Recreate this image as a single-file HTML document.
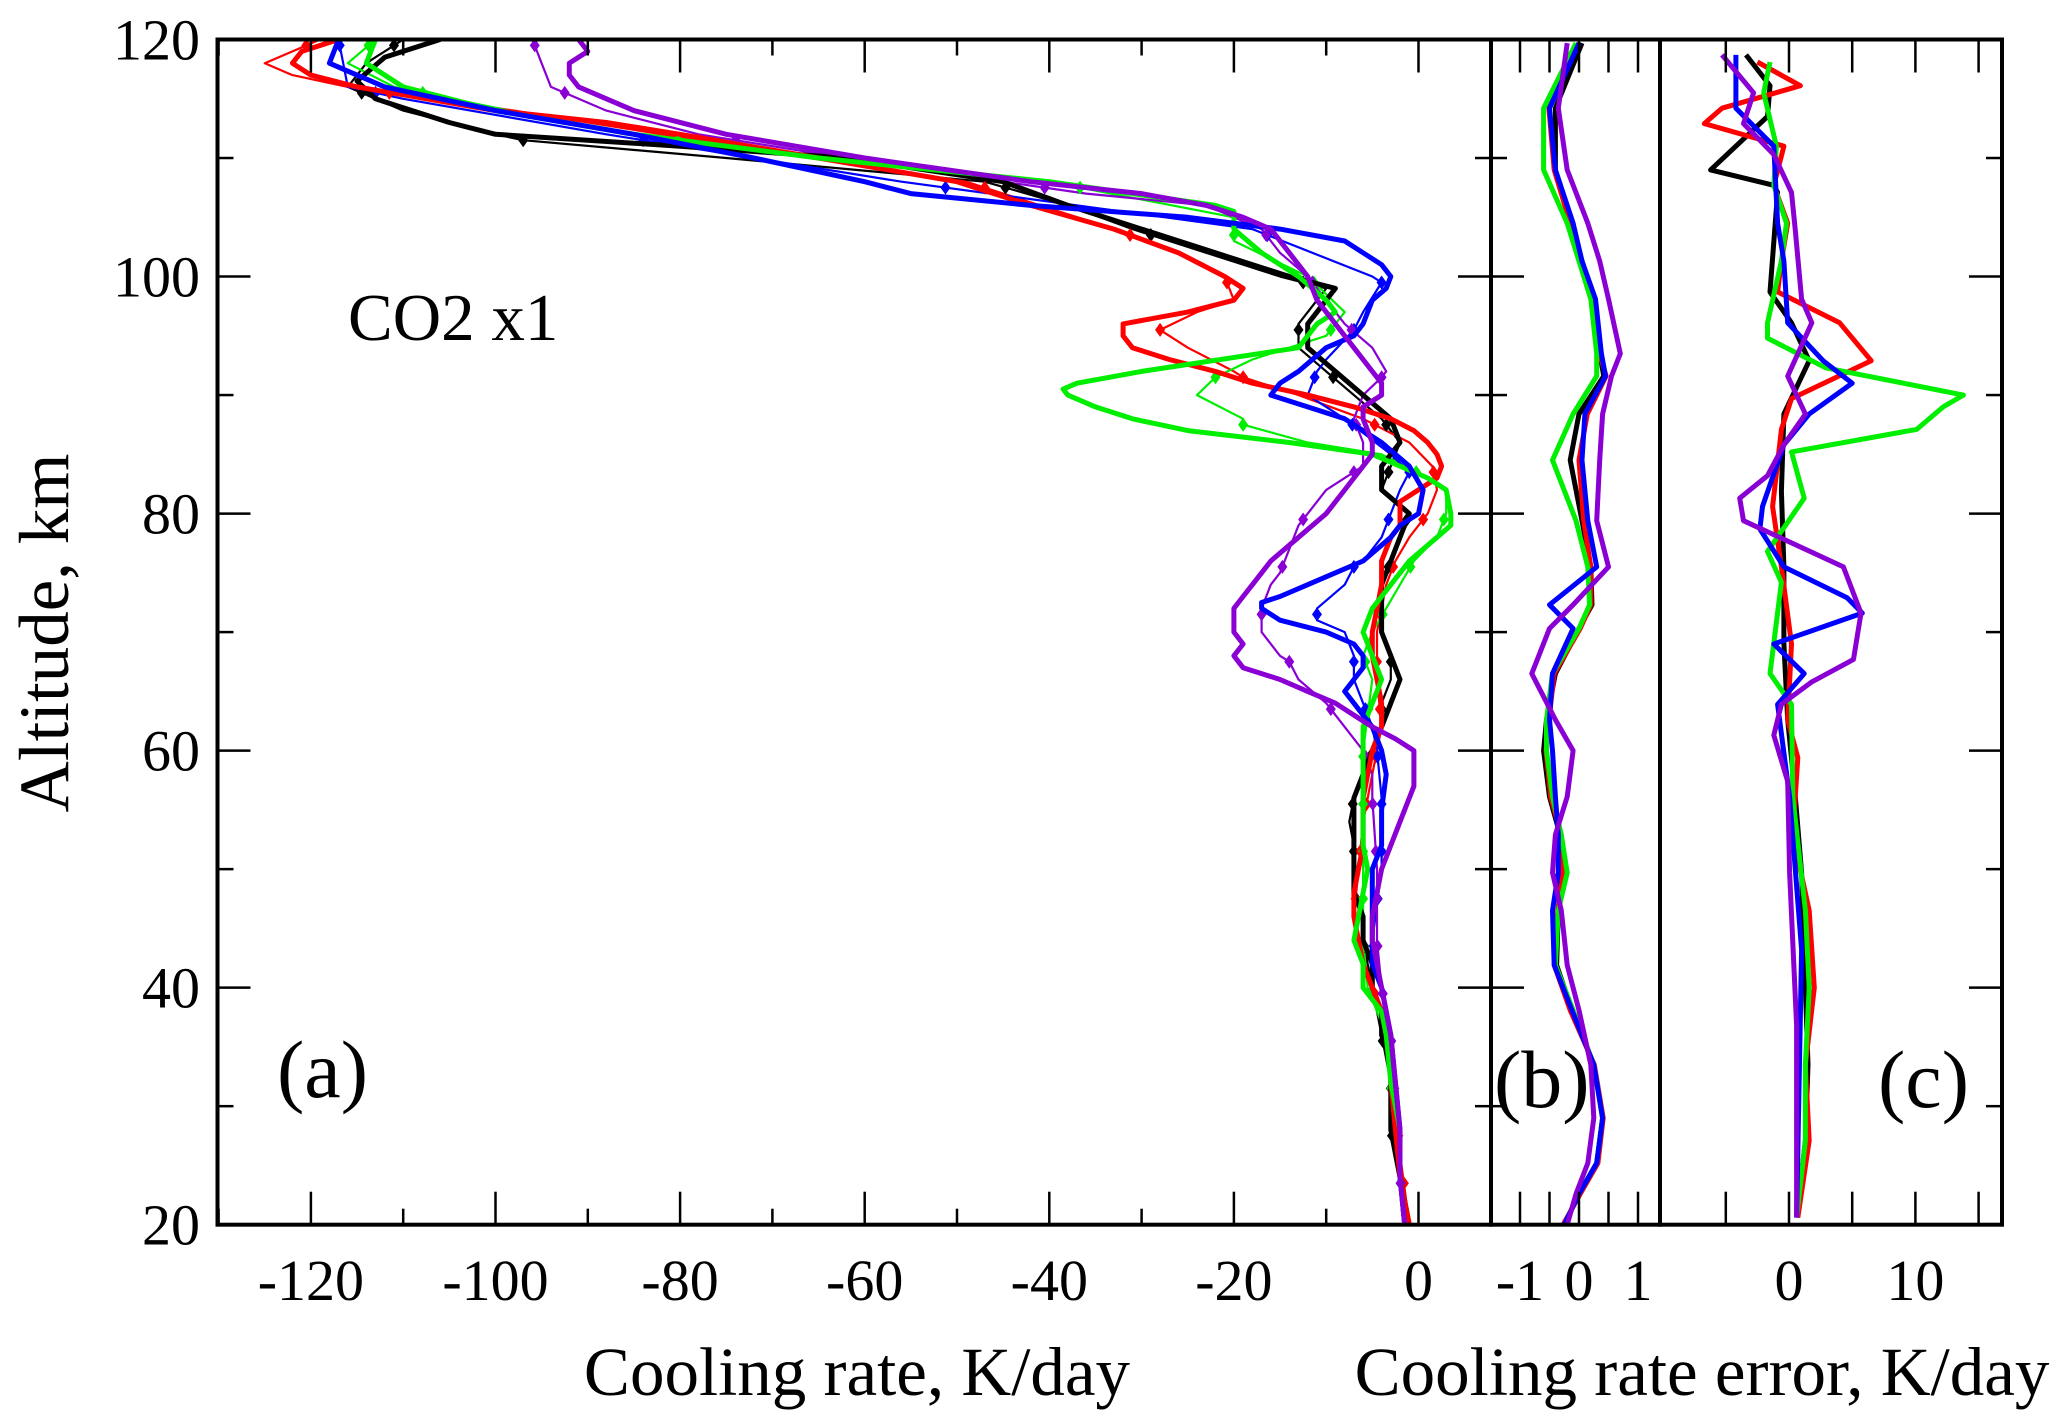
<!DOCTYPE html>
<html><head><meta charset="utf-8"><style>
html,body{margin:0;padding:0;background:#fff;}
svg{display:block;font-family:"Liberation Serif",serif;}
</style></head><body>
<svg id="chart" width="2067" height="1428" viewBox="0 0 2067 1428" xmlns="http://www.w3.org/2000/svg">
<g id="series"></g>
<g id="axes"></g>
<text x="0" y="0" font-size="71" text-anchor="middle" transform="translate(68,633) rotate(-90)">Altitude, km</text>
<text x="857" y="1395" font-size="69" text-anchor="middle">Cooling rate, K/day</text>
<text x="1702" y="1395" font-size="69" text-anchor="middle">Cooling rate error, K/day</text>
<text x="348" y="340" font-size="67">CO2 x1</text>
<text x="277" y="1097" font-size="82">(a)</text>
<text x="1494" y="1107" font-size="82">(b)</text>
<text x="1878" y="1107" font-size="82">(c)</text>
</svg>
<script>
// ---- panel (a) data: altitude arrays and cooling-rate arrays ----
const altBlackThick=[120,118.5,116.5,115,113,112,111,110,108,106,104,102,100,99,98,96,94,92,90,88,86,84,82,80,78,76,74,72,70,68,66,64,62,60,58,56,54,52,50,48,46,44,42,40,38,36,34,32,30,28,26,24,22,20];
const valBlackThick=[-106,-112,-115,-113,-105,-100,-80,-62,-45,-38,-30,-22,-14,-9,-10,-12,-12,-9,-6,-3,-2,-4,-4,-1,-2,-3,-4,-4,-4,-3,-2,-3,-4,-5,-6,-7,-7,-7,-7,-7,-6,-6,-5,-5,-4,-4,-3,-3,-3,-3,-2.5,-2,-1.5,-1];
const altBlackThin=[120,118,116,114,112,111.5,110,108,106,104,102,100,99,98,96,94,92,90,88,86,84,82,80,78,76,74,72,70,68,66,64,62,60,58,56,54,52,50,48,46,44,40,36,32,28,24,20];
const valBlackThin=[-110,-114,-116,-110,-100,-97,-75,-47,-38,-31,-23,-15,-10,-11,-13,-13,-10,-7,-4,-2,-3,-4,-1,-2,-3,-4,-4,-4,-3,-3,-4,-4,-5,-6,-7,-7.5,-7,-7,-7,-6,-6,-5,-4,-3,-3,-2,-1];
const altRedThick=[120,119,118,117,116,114,113,112,110,108,106,104,102,100,99,98,97,96,95,94,93,92,91,90,89,88,87,86,85,84,83,82,81,80,79,78,76,74,72,70,68,66,64,62,60,58,56,52,50,48,46,44,42,40,38,36,34,32,28,24,20];
const valRedThick=[-117,-121,-122,-120,-115,-100,-88,-80,-65,-50,-42,-33,-26,-21,-19,-20,-25,-32,-32,-31,-27,-22,-18,-12,-7,-3,-0.5,1,2,2.5,2,0,-2,-2,-2,-3,-4,-4,-4.5,-5,-5,-4.5,-4,-4,-5,-5.5,-6,-6,-6.5,-7,-7,-6.5,-6,-5,-4,-3.5,-3,-3,-2.5,-2,-1];
const altRedThin=[120,118,117,116,114,112,110,108,106,104,102,100,98,97,95.5,94,92,91.5,90,88,86,84,82,80,78,76,74,72,70,66,62,58,54,50,46,42,38,34,30,26,20];
const valRedThin=[-119,-125,-122,-116,-98,-82,-66,-49,-41,-33,-26,-21,-20,-24,-28,-25,-20,-19,-13,-6,-1,1.5,2,1,-1,-2.5,-3.5,-4,-4.5,-4.5,-4,-5,-6,-6.5,-7,-6,-4,-3,-2.5,-2,-1];
const altGreenThick=[120,118,117,116,114,112,110,108,106,105.5,104,102,100,98,97,96,95,94,92,91,90.5,90,89,88,87,86,85,84,83,82,80,79,78,76,74,72,70,68,66,64,62,60,56,52,50,48,44,42,40,38,36,32,28,24,20];
const valGreenThick=[-113,-114,-112,-110,-100,-85,-65,-40,-22,-20,-20,-17,-13,-10,-9,-11,-12,-13,-30,-37,-38.5,-38,-35,-31,-25,-14,-5,-2,1,3,3.5,3.5,2,-1,-3,-5,-6,-5,-4,-5,-6,-6,-6,-6,-5.5,-6,-7,-6,-6,-4,-3.5,-3,-2,-2,-1.5];
const altGreenThin=[120,118,116,112,108,105,103,100,97,95,93,91.5,90,88,87.5,86,85,83,82,80,78,76,74,70,68,66,60,56,50,44,40,36,28,20];
const valGreenThin=[-113,-116,-111,-86,-40,-20,-20,-12,-8,-10,-18,-22,-24,-19,-19,-12,-4,1,3,3,2,-0.5,-2,-5,-6,-5,-6,-6,-6,-6,-5.5,-3.5,-2.5,-1.5];
const altBlueThick=[120,118,117,116,114,112,110,108,107,106,105,104,103,102,101,100,99,98,96,95,94,92,91,90,89,88,87,86,85,84,82,80,79,78,76,75,74,73,72.5,72,71,70,69,68,67,66,65,64,63,62,60,58,55,52,50,46,42,40,36,32,28,24,20];
const valBlueThick=[-117,-118,-115,-112,-100,-85,-72,-60,-55,-42,-25,-15,-8,-6,-4,-3,-3.5,-5,-6,-7,-10,-13,-15,-16,-12,-8,-6,-4,-2.5,-1,0.5,0,-2,-3,-6,-9,-12,-15,-17,-17,-15,-10,-7,-6,-6,-7,-8,-7,-6,-5,-4,-3.5,-4,-4,-5,-5,-5,-4,-3,-2.5,-2,-2,-1.5];
const altBlueThin=[120,116,115,112,108,104,100,99.5,97,95.5,93,92,90,88,85,83.5,82,80,78,76,75.5,74,72,71,70,68,66,64,62,60,56,50,44,40,36,30,24,20];
const valBlueThin=[-117,-116,-110,-88,-56,-18,-5,-4,-6,-7,-10,-11,-12,-8,-3,-1,-2,-3,-4,-6,-7,-8,-11,-11,-8,-7,-7,-6,-5,-4.5,-4,-4,-5,-4,-3,-2.5,-2,-1.5];
const altPurpleThick=[120,119,118,117,116,114,112,110,108,107,106,105,104,102,100,98,96,94,92,91,90,89,88,86,85,84,82,80,78,76,74,73,72,70,69,68,67,66,65,64,63,62,61,60,59,57,56,54,52,50,48,46,44,42,40,36,32,28,24,20];
const valPurpleThick=[-91,-90,-92,-92,-91,-85,-75,-60,-42,-30,-23,-19,-16,-14,-12,-11,-9,-7,-5,-4,-4,-6,-6,-5,-5,-6,-8,-10,-13,-16,-18,-19,-20,-20,-19,-20,-19,-15,-12,-9,-7,-5,-2.5,-0.5,-0.5,-0.5,-1,-2,-3,-4,-4.5,-5,-5,-4.5,-4,-3,-2.5,-2,-2,-1.5];
const altPurpleThin=[120,118,116,114,112,110,108,107,106,104,102,100,98,96,94,92,91.5,90,88,86,84,83.5,82,80,79,77,75,74,72,71.5,70,68,67.5,66,64,62,60,58,56,50,44,40,36,30,24,20];
const valPurpleThin=[-96,-95,-94,-88,-78,-62,-45,-36,-23,-17,-15,-12,-10,-8,-5,-3.5,-4,-6,-7,-6,-6,-7,-10,-12,-13,-14,-15,-16,-17,-17,-17,-15,-14,-13,-10,-8,-6,-5,-5,-4.5,-4.5,-4,-3,-2.5,-2,-1.5];
const markerAlts=[119.5,115.5,111.5,107.5,103.5,99.5,95.5,91.5,87.5,83.5,79.5,75.5,71.5,67.5,63.5,59.5,55.5,51.5,47.5,43.5,39.5,35.5,31.5,27.5,23.5];

// ---- panel (b) data: error K/day ----
const altB=[119.7,114.2,109.0,104.5,101.3,98.1,93.5,91.6,88.4,84.5,79.4,75.5,72.3,70.3,66.5,62.6,60,56.1,52.9,49.7,46.5,41.9,38.1,33.5,29,25.2,22.6,20];
const bRed=[0,-0.51,-0.42,-0.15,0.02,0.26,0.35,0.46,0.14,0,0.08,0.2,0.2,0.02,-0.42,-0.51,-0.56,-0.48,-0.3,-0.27,-0.36,-0.42,-0.15,0.26,0.41,0.32,0.02,-0.27];
const bBlack=[0.05,-0.4,-0.4,-0.12,0.05,0.25,0.35,0.42,0.0,-0.15,0.05,0.2,0.22,0.0,-0.4,-0.55,-0.6,-0.5,-0.32,-0.3,-0.35,-0.38,-0.12,0.25,0.4,0.3,0.0,-0.25];
const bGreen=[-0.05,-0.6,-0.6,-0.2,0.0,0.2,0.3,0.3,-0.1,-0.45,-0.05,0.15,0.18,0.0,-0.45,-0.55,-0.55,-0.45,-0.3,-0.2,-0.35,-0.4,-0.1,0.25,0.4,0.3,0.0,-0.25];
const bBlue=[0.0,-0.5,-0.4,-0.1,0.05,0.28,0.38,0.45,0.1,0.05,0.15,0.3,-0.5,-0.1,-0.45,-0.5,-0.45,-0.4,-0.35,-0.35,-0.45,-0.42,-0.12,0.25,0.4,0.3,0.0,-0.25];
const bPurple=[-0.2,-0.35,-0.2,0.15,0.35,0.5,0.7,0.55,0.4,0.35,0.3,0.5,-0.1,-0.5,-0.8,-0.4,-0.1,-0.2,-0.4,-0.45,-0.3,-0.2,0.0,0.2,0.25,0.15,-0.05,-0.2];

// ---- panel (c) data: error K/day ----
const altCRed=[118.1,116.1,114.2,112.9,111,107.7,104.5,101.3,98.7,96.1,92.9,89.7,87.1,80.6,75.5,69,62.6,59.4,52.9,46.5,40,33.5,27.1,20.6];
const cRed=[-2.5,0.9,-5.3,-6.7,-0.4,-1.2,-0.1,-0.6,-0.9,4,6.5,0.2,-0.6,-1.3,-0.6,0.2,-0.1,0.7,0.3,1.6,2,1.3,1.6,0.7];
const altCGreen=[118.1,115.5,111,107.7,104.5,101.3,96.1,94.8,92.3,90,89,87.1,85.2,81.3,76.8,74.2,66.5,63.9,56.1,46.5,40,33.5,27.1,20.6];
const cGreen=[-1.5,-2,-1,-1.2,-0.2,-0.6,-1.7,-1.7,2.9,13.8,12.2,10.1,0.2,1.2,-1.7,-0.6,-1.5,0.2,0.3,1.3,1.6,1.3,1.3,0.6];
const altCBlack=[118.7,116.1,113.5,109,107.7,107.1,98.7,96.1,92.9,88.4,81.9,75.5,69,62.6,56.1,49.7,40,33.5,27.1,20.6];
const cBlack=[-3.4,-1.5,-1.7,-6.2,-1.2,-0.9,-1.5,0.2,1.6,-0.4,-0.6,-0.4,-0.4,-0.1,0.5,1,1.3,1.5,1.3,0.6];
const altCBlue=[118.7,114.2,111,104.5,101.3,96.1,92.9,91,88.4,85.8,80.6,78.7,75.5,72.9,71.6,69,66.5,63.9,56.1,43.2,20.6];
const cBlue=[-4.2,-4.2,-1.2,-0.9,-0.4,-0.1,2.7,5,1.6,-0.4,-2.1,-2.3,-0.4,4.6,5.8,-1.2,1.2,-0.9,0.05,1,0.6];
const altCPurple=[118.7,115.5,112.9,110.3,107.1,103.9,98.1,96.1,91.6,88.4,85.8,83.2,81.3,79.4,75.5,71.6,67.7,65.8,63.9,61.3,57.4,49.7,36.8,20.6];
const cPurple=[-5.3,-2.8,-3.6,-1.2,0.2,0.5,1,1.8,-0.1,1.3,-0.4,-1.7,-3.9,-3.6,4.3,5.7,5.1,1.8,-0.6,-1.2,-0.1,0.05,0.6,0.6];

// ---- axes ----
const yTop=39.5, yBot=1224.7;
const aL=217.5, aR=1491, bR=1660, cR=2002;
function yA(alt){return yBot-(alt-20)*(yBot-yTop)/100;}
function xA(v){return 1418.5+v*9.23;}
function xB(v){return 1579+v*59;}
function xC(v){return 1789+v*12.64;}

const NS='http://www.w3.org/2000/svg';
const gS=document.getElementById('series');
const gA=document.getElementById('axes');
function mk(tag,attrs,parent){const e=document.createElementNS(NS,tag);for(const k in attrs)e.setAttribute(k,attrs[k]);parent.appendChild(e);return e;}

const defs=mk('defs',{},gS);
[['clipA',aL,aR],['clipB',aR,bR],['clipC',bR,cR]].forEach(c=>{const cp=mk('clipPath',{id:c[0]},defs);mk('rect',{x:c[1],y:yTop,width:c[2]-c[1],height:yBot-yTop},cp);});

function interp(alts,vals,a){for(let i=0;i<alts.length-1;i++){const a0=alts[i],a1=alts[i+1];if(a<=a0&&a>=a1){const t=(a-a0)/(a1-a0);return vals[i]+t*(vals[i+1]-vals[i]);}}return null;}

function drawLine(alts,vals,fx,color,w,clip,name){
  const d=alts.map((a,i)=>(i?'L':'M')+fx(vals[i]).toFixed(1)+','+yA(a).toFixed(1)).join('');
  const p=mk('path',{d:d,fill:'none',stroke:color,'stroke-width':w,'stroke-linejoin':'round','clip-path':'url(#'+clip+')'},gS);
  
  
  return p;
}
function drawMarkers(alts,vals,color,name){
  const g=mk('g',{fill:color,'clip-path':'url(#clipA)'},gS);
  
  
  markerAlts.forEach(a=>{const v=interp(alts,vals,a);if(v===null)return;const x=xA(v),y=yA(a);
    const m=mk('path',{d:`M${x},${y-7}L${x+5},${y}L${x},${y+7}L${x-5},${y}Z`},g);
    
    
  });
}
const C={black:'#000',red:'#ff0000',green:'#00ee00',blue:'#0000ff',purple:'#8a00d4'};
drawLine(altBlackThin,valBlackThin,xA,C.black,2.2,'clipA','black-thin-line');
drawLine(altRedThin,valRedThin,xA,C.red,2.2,'clipA','red-thin-line');
drawLine(altGreenThin,valGreenThin,xA,C.green,2.2,'clipA','green-thin-line');
drawLine(altBlueThin,valBlueThin,xA,C.blue,2.2,'clipA','blue-thin-line');
drawLine(altPurpleThin,valPurpleThin,xA,C.purple,2.2,'clipA','purple-thin-line');
drawMarkers(altBlackThin,valBlackThin,C.black,'black-markers');
drawMarkers(altRedThin,valRedThin,C.red,'red-markers');
drawMarkers(altGreenThin,valGreenThin,C.green,'green-markers');
drawMarkers(altBlueThin,valBlueThin,C.blue,'blue-markers');
drawMarkers(altPurpleThin,valPurpleThin,C.purple,'purple-markers');
drawLine(altBlackThick,valBlackThick,xA,C.black,5,'clipA','black-thick-line');
drawLine(altRedThick,valRedThick,xA,C.red,5,'clipA','red-thick-line');
drawLine(altGreenThick,valGreenThick,xA,C.green,5,'clipA','green-thick-line');
drawLine(altBlueThick,valBlueThick,xA,C.blue,5,'clipA','blue-thick-line');
drawLine(altPurpleThick,valPurpleThick,xA,C.purple,5,'clipA','purple-thick-line');
drawLine(altB,bBlack,xB,C.black,5,'clipB','b-black-line');
drawLine(altB,bRed,xB,C.red,5,'clipB','b-red-line');
drawLine(altB,bGreen,xB,C.green,5,'clipB','b-green-line');
drawLine(altB,bBlue,xB,C.blue,5,'clipB','b-blue-line');
drawLine(altB,bPurple,xB,C.purple,5,'clipB','b-purple-line');
drawLine(altCBlack,cBlack,xC,C.black,5,'clipC','c-black-line');
drawLine(altCRed,cRed,xC,C.red,5,'clipC','c-red-line');
drawLine(altCGreen,cGreen,xC,C.green,5,'clipC','c-green-line');
drawLine(altCBlue,cBlue,xC,C.blue,5,'clipC','c-blue-line');
drawLine(altCPurple,cPurple,xC,C.purple,5,'clipC','c-purple-line');

[[aL,aR,'panel-a-frame'],[aR,bR,'panel-b-frame'],[bR,cR,'panel-c-frame']].forEach(f=>{
  const r=mk('rect',{x:f[0],y:yTop,width:f[1]-f[0],height:yBot-yTop,fill:'none',stroke:'#000','stroke-width':4},gA);
  
  
});
function tick(x1,y1,x2,y2){mk('line',{x1:x1,y1:y1,x2:x2,y2:y2,stroke:'#000','stroke-width':2.5},gA);}
function label(x,y,t,anchor,name){const e=mk('text',{x:x,y:y,'font-size':58,'text-anchor':anchor},gA);e.textContent=t;
  
  }
for(let a=20;a<=120;a+=10){const y=yA(a),L=(a%20===0)?33:16;
  tick(aL,y,aL+L,y);tick(aR,y,aR-L,y);tick(aR,y,aR+L,y);tick(cR,y,cR-L,y);
  if(a%20===0)label(200,y+20,String(a),'end','y-tick-label');}
for(let v=-130;v<=0;v+=10){const x=xA(v),L=(v%20===0)?33:16;tick(x,yBot,x,yBot-L);tick(x,yTop,x,yTop+L);
  if(v%20===0)label(x,1300,String(v),'middle','x-tick-label-a');}
for(let v=-1;v<=1;v+=0.5){const x=xB(v),L=33;tick(x,yBot,x,yBot-L);tick(x,yTop,x,yTop+L);
  if(Number.isInteger(v))label(x,1300,String(v),'middle','x-tick-label-b');}
for(let v=-5;v<=15;v+=5){const x=xC(v),L=33;tick(x,yBot,x,yBot-L);tick(x,yTop,x,yTop+L);
  if(v===0||v===10)label(x,1300,String(v),'middle','x-tick-label-c');}
</script>
</body></html>
